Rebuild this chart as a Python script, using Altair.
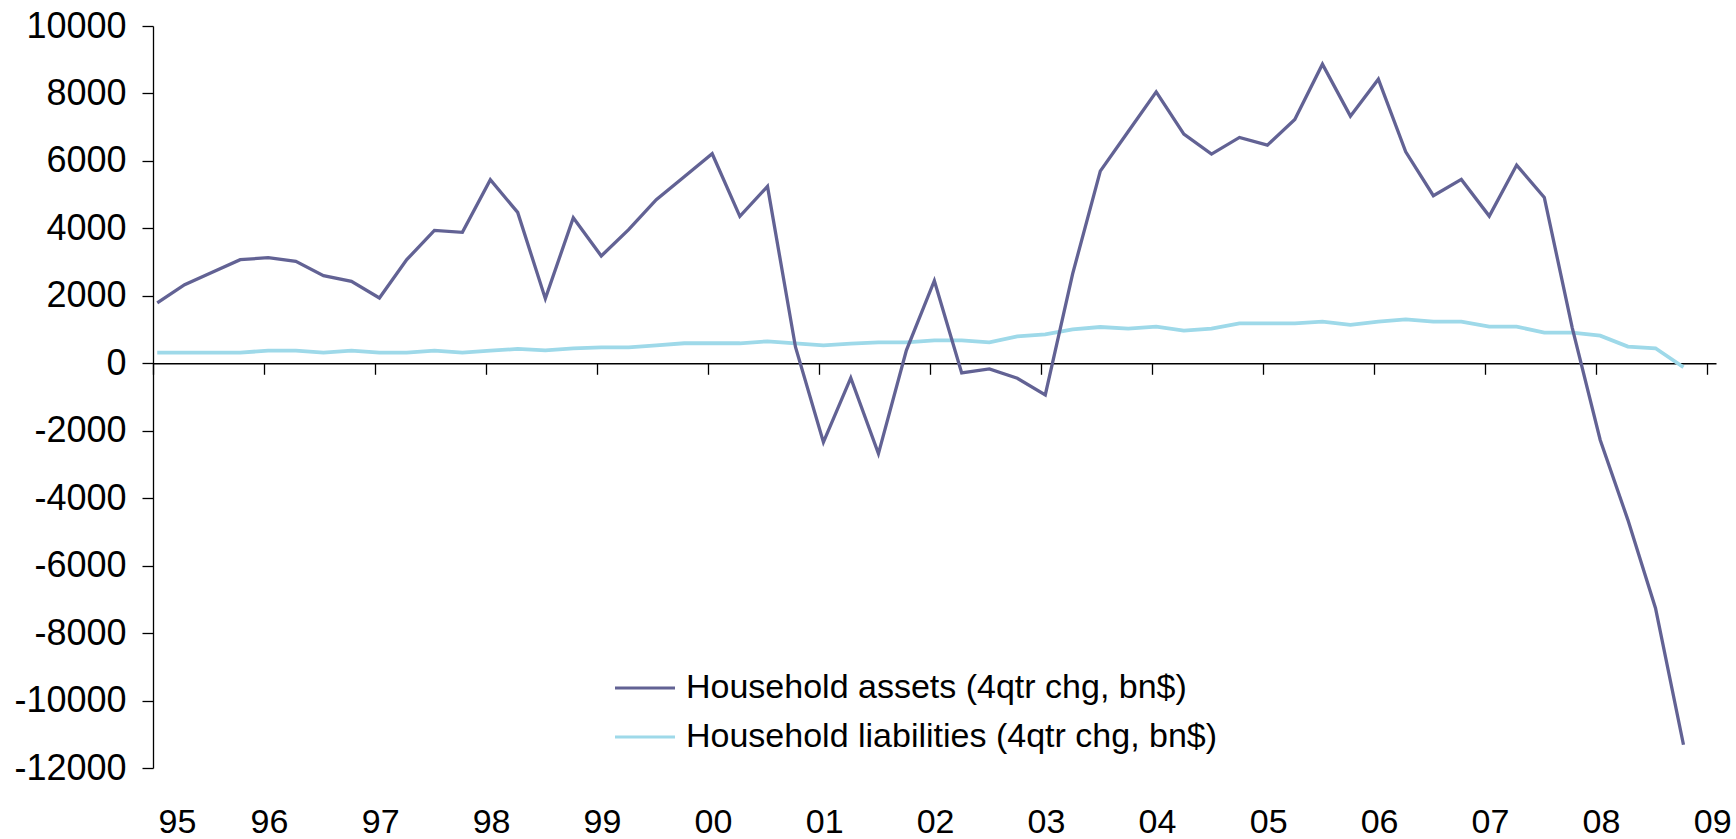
import altair as alt
import pandas as pd

ASSETS = "Household assets (4qtr chg, bn$)"
LIAB = "Household liabilities (4qtr chg, bn$)"

# quarterly observations, Q1 1995 .. Q4 2008
quarters = [f"{y}/{m:02d}/15" for y in range(1995, 2009) for m in (1, 4, 7, 10)]

assets = [1788, 2331, 2700, 3072, 3131, 3022, 2598, 2430, 1936, 3072, 3941, 3882,
          5442, 4474, 1916, 4316, 3180, 3961, 4850, 5531, 6213, 4356, 5245, 484,
          -2341, -435, -2677, 385, 2447, -286, -168, -444, -938, 2650, 5698, 6870,
          8048, 6794, 6201, 6696, 6468, 7229, 8868, 7327, 8424, 6270, 4967, 5451,
          4364, 5876, 4918, 1050, -2273, -4643, -7260, -11310]

liabilities = [316, 316, 316, 316, 375, 375, 316, 375, 316, 316, 375, 316,
               375, 425, 385, 444, 474, 474, 533, 593, 593, 593, 652, 593,
               533, 583, 622, 622, 681, 681, 622, 800, 859, 1007, 1075, 1027,
               1086, 968, 1027, 1185, 1185, 1185, 1234, 1136, 1234, 1303, 1234, 1234,
               1086, 1086, 908, 908, 819, 494, 444, -119]

year_labels = list(range(1995, 2010))
y_ticks = list(range(-12000, 10001, 2000))

df = pd.DataFrame({
    "date": quarters * 2,
    "value": assets + liabilities,
    "series": [ASSETS] * len(assets) + [LIAB] * len(liabilities),
})

W, H = 1563, 742
zero_offset = -(H - H * 10000 / 22000)

xscale = alt.Scale(domain=[alt.DateTime(year=1995, month=1, date=1),
                           alt.DateTime(year=2009, month=1, date=30)])
yscale = alt.Scale(domain=[-12000, 10000], nice=False, zero=False)
year_ticks = [alt.DateTime(year=y, month=1, date=1) for y in year_labels]

color = alt.Color(
    "series:N",
    scale=alt.Scale(domain=[ASSETS, LIAB], range=["#626294", "#9ED9E9"]),
    legend=alt.Legend(
        orient="none", legendX=460, legendY=630, title=None,
        symbolType="stroke", symbolSize=3600, symbolStrokeWidth=3.2,
        labelFontSize=34, labelOffset=9, labelLimit=1000, rowPadding=0,
        padding=0, labelColor="black", labelFont="Liberation Sans",
    ),
)

x_label_axis = alt.Axis(
    orient="bottom", values=year_ticks, format="%y", domain=False, ticks=False,
    tickSize=0, labelPadding=54, labelBaseline="middle", labelOffset=5,
    labelFontSize=34, grid=False, title=None, labelColor="black",
)
zero_axis = alt.Axis(
    orient="bottom", offset=zero_offset, values=year_ticks, labels=False,
    ticks=True, tickSize=11, domain=True, grid=False, title=None,
    domainColor="black", tickColor="black", domainWidth=1.3, tickWidth=1.3,
)
y_axis = alt.Axis(
    values=y_ticks, labelExpr="'' + datum.value", domain=True, ticks=True,
    tickSize=11, labelPadding=16, labelFontSize=36, grid=False, title=None,
    domainColor="black", tickColor="black", labelColor="black",
    domainWidth=1.3, tickWidth=1.3,
)

liab_layer = alt.Chart(df).transform_filter(
    alt.datum.series == LIAB
).mark_line(strokeWidth=3.8).encode(
    x=alt.X("date:T", scale=xscale, axis=x_label_axis),
    y=alt.Y("value:Q", scale=yscale, axis=y_axis),
    color=color,
)

assets_layer = alt.Chart(df).transform_filter(
    alt.datum.series == ASSETS
).mark_line(strokeWidth=3.3).encode(
    x=alt.X("date:T", scale=xscale, axis=zero_axis),
    y=alt.Y("value:Q", scale=yscale, axis=None),
    color=color,
)

chart = alt.layer(liab_layer, assets_layer).resolve_axis(
    x="independent", y="independent"
).properties(
    width=W, height=H,
    autosize=alt.AutoSizeParams(type="none"),
    padding={"left": 153, "top": 26, "right": 20, "bottom": 71},
).configure(
    font="Liberation Sans",
).configure_view(stroke=None)

chart.save("out.html", embed_options={"renderer": "svg", "actions": False})
